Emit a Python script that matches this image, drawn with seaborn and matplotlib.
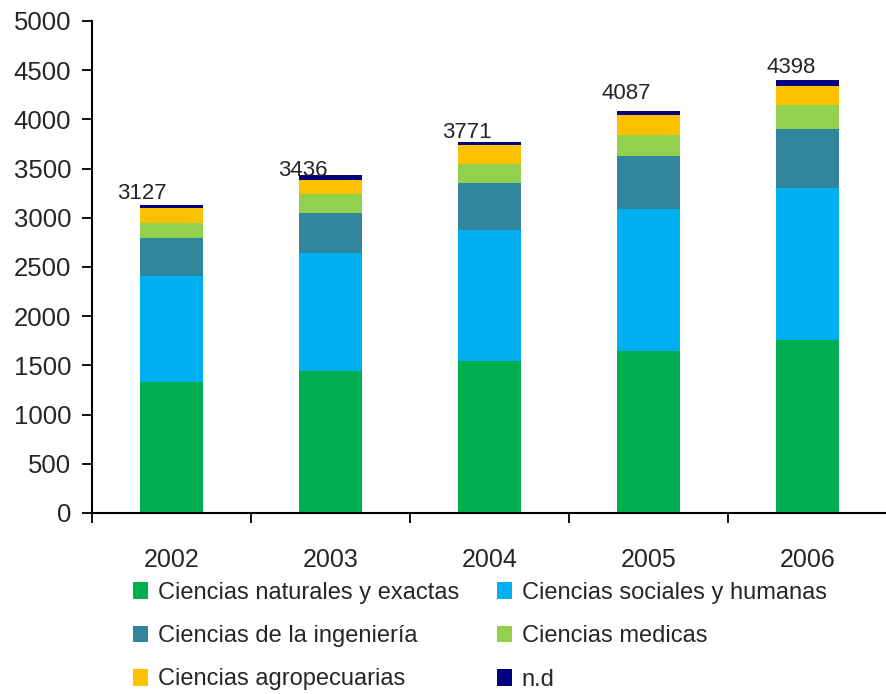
import seaborn as sns
import pandas as pd
import matplotlib.pyplot as plt
from matplotlib.patches import Patch

years = ["2002", "2003", "2004", "2005", "2006"]
naturales = [1330, 1440, 1545, 1650, 1755]
sociales = [1080, 1200, 1335, 1440, 1550]
ingenieria = [385, 410, 470, 540, 600]
medicas = [155, 193, 197, 215, 237]
agropecuarias = [145, 145, 190, 195, 197]
nd = [32, 48, 34, 47, 59]
totals = [3127, 3436, 3771, 4087, 4398]

series_names = ["Ciencias naturales y exactas", "Ciencias sociales y humanas",
                "Ciencias de la ingeniería", "Ciencias medicas",
                "Ciencias agropecuarias", "n.d"]
colors = ["#00B050", "#00B0F0", "#31859C", "#92D050", "#FFC000", "#000080"]

sns.set_style("white")
plt.rcParams['font.family'] = ['Liberation Sans', 'DejaVu Sans']

df = pd.DataFrame({"year": years, "nat": naturales, "soc": sociales, "ing": ingenieria,
                   "med": medicas, "agro": agropecuarias, "nd": nd})
cols = ["nat", "soc", "ing", "med", "agro", "nd"]
cum = df[cols].cumsum(axis=1)

fig = plt.figure(figsize=(8.87, 6.94), dpi=100)
ax = fig.add_axes([92/887, 1 - 513/694, 795/887, 492/694])

# stacked bars: draw cumulative heights from top to bottom
for col, color in reversed(list(zip(cols, colors))):
    sns.barplot(ax=ax, x=df["year"], y=cum[col], color=color, width=0.4,
                linewidth=0, saturation=1)

# totals above bars (offsets in points, as placed in the original)
label_offsets = [(-21.5, 4.3), (-20, -0.7), (-16.5, 2.9), (-16, 8.6), (-11.5, 5)]
for i, (t, off) in enumerate(zip(totals, label_offsets)):
    ax.annotate(str(t), xy=(i, t), xytext=off, textcoords="offset points",
                ha="center", va="baseline", fontsize=16)

ax.set_xlim(-0.5, 4.5)
ax.set_ylim(0, 5000)
ax.set_yticks(range(0, 5001, 500))
ax.set_xlabel("")
ax.set_ylabel("")

ax.set_xticks([-0.5, 0.5, 1.5, 2.5, 3.5, 4.5])
ax.set_xticklabels([])
ax.set_xticks(range(5), minor=True)
ax.set_xticklabels(years, minor=True)
ax.tick_params(axis="x", which="major", bottom=True, direction="out", length=7,
               width=1.3, color="black")
ax.tick_params(axis="x", which="minor", bottom=True, length=0, pad=25, labelsize=18)
ax.tick_params(axis="y", left=True, direction="out", length=7, width=1.3,
               color="black", labelsize=18.5, pad=8)

sns.despine(ax=ax, top=True, right=True)
for s in ["left", "bottom"]:
    ax.spines[s].set_color("black")
    ax.spines[s].set_linewidth(1.5)

handles = [Patch(facecolor=c, edgecolor="none", label=n) for c, n in zip(colors, series_names)]
order = [0, 2, 4, 1, 3, 5]
fig.legend([handles[i] for i in order], [series_names[i] for i in order],
           ncol=2, loc="upper left", bbox_to_anchor=(133/887, 1 - 582/694),
           frameon=False, fontsize=17, handlelength=0.65, handleheight=0.7,
           handletextpad=0.4, labelspacing=0.9, columnspacing=1.6,
           borderaxespad=0, borderpad=0)

fig.savefig("out.png", dpi=100)
